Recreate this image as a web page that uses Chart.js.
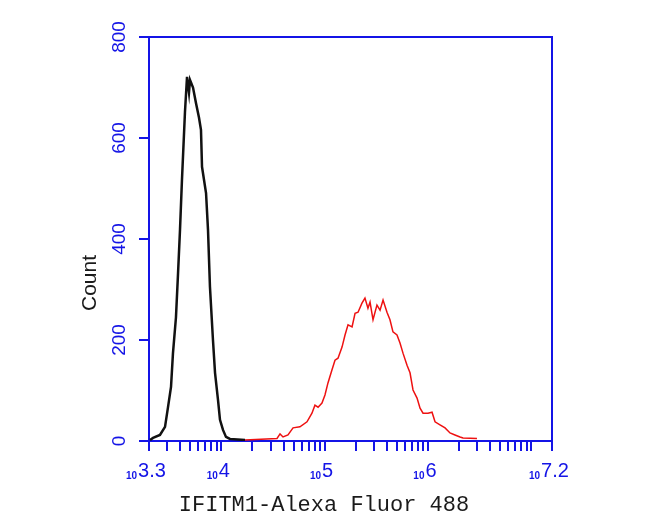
<!DOCTYPE html>
<html>
<head>
<meta charset="utf-8">
<script src="https://cdn.jsdelivr.net/npm/chart.js@4.4.1/dist/chart.umd.min.js"></script>
<style>
  body { margin: 0; background: #fff; }
</style>
</head>
<body>
<canvas id="myChart" width="650" height="521"></canvas>
<script>
// channel positions are in decades (log10 of fluorescence)
const negLog = [3.310, 3.339, 3.406, 3.455, 3.484, 3.513, 3.532, 3.561, 3.581, 3.600, 3.619, 3.648, 3.668, 3.687, 3.697, 3.726, 3.755, 3.784, 3.803, 3.813, 3.852, 3.871, 3.890, 3.919, 3.939, 3.968, 3.987, 4.016, 4.045, 4.084, 4.229]
const negCount = [2, 6, 12, 28, 67, 107, 174, 245, 332, 418, 517, 651, 721, 690, 715, 700, 669, 640, 616, 543, 491, 418, 305, 200, 135, 81, 42, 22, 8, 4, 2]

const posLog = [4.229, 4.539, 4.568, 4.597, 4.645, 4.694, 4.761, 4.829, 4.877, 4.906, 4.936, 4.974, 5.003, 5.032, 5.071, 5.100, 5.129, 5.168, 5.197, 5.226, 5.265, 5.294, 5.323, 5.361, 5.390, 5.419, 5.439, 5.468, 5.506, 5.536, 5.565, 5.603, 5.632, 5.661, 5.700, 5.729, 5.758, 5.797, 5.826, 5.855, 5.894, 5.923, 5.952, 6.000, 6.039, 6.068, 6.116, 6.165, 6.213, 6.261, 6.310, 6.339, 6.474]
const posCount = [2, 5, 14, 8, 12, 26, 28, 38, 55, 71, 67, 75, 91, 115, 141, 160, 164, 186, 210, 230, 226, 253, 255, 273, 283, 263, 275, 240, 269, 259, 279, 255, 240, 216, 210, 194, 174, 150, 135, 101, 85, 65, 55, 55, 57, 38, 32, 26, 16, 12, 8, 6, 5]

const xLabelExp = [3.3, 4, 5, 6, 7.2]
const xLabelText = ['3.3', '4', '5', '6', '7.2']
const yTicks = [0, 200, 400, 600, 800]

const blue = '#1414e6'

function toPoints(logs, counts) {
    return logs.map((e, i) => ({ x: Math.pow(10, e), y: counts[i] }))
}

const labelsPlugin = {
    id: 'labels',
    afterDraw(chart) {
        const ctx = chart.ctx
        const a = chart.chartArea
        const xs = chart.scales.x
        const ys = chart.scales.y
        ctx.save()
        // top and right frame
        ctx.strokeStyle = blue
        ctx.lineWidth = 2
        ctx.beginPath()
        ctx.moveTo(a.left, a.top)
        ctx.lineTo(a.right, a.top)
        ctx.lineTo(a.right, a.bottom)
        ctx.stroke()

        ctx.fillStyle = blue
        // y tick labels, rotated
        ctx.font = '19px "Liberation Sans", Arial, sans-serif'
        ctx.textAlign = 'center'
        ctx.textBaseline = 'alphabetic'
        yTicks.forEach(t => {
            const py = ys.getPixelForValue(t)
            ctx.save()
            ctx.translate(125, py)
            ctx.rotate(-Math.PI / 2)
            ctx.fillText(String(t), 0, 0)
            ctx.restore()
        })

        // x tick labels: small 10 + big exponent
        xLabelExp.forEach((e, i) => {
            const px = xs.getPixelForValue(Math.pow(10, e))
            ctx.font = '20px "Liberation Sans", Arial, sans-serif'
            ctx.textAlign = 'center'
            const w = ctx.measureText(xLabelText[i]).width
            ctx.fillText(xLabelText[i], px + 3, 477)
            ctx.font = 'bold 10px "Liberation Sans", Arial, sans-serif'
            ctx.textAlign = 'right'
            ctx.fillText('10', px + 3 - w / 2 - 1, 479)
        })

        // axis titles
        ctx.fillStyle = '#1a1a1a'
        ctx.font = '21px "Liberation Sans", Arial, sans-serif'
        ctx.textAlign = 'center'
        ctx.save()
        ctx.translate(96, 283)
        ctx.rotate(-Math.PI / 2)
        ctx.fillText('Count', 0, 0)
        ctx.restore()

        ctx.font = '22px "Liberation Mono", monospace'
        ctx.fillText('IFITM1-Alexa Fluor 488', 324, 511)
        ctx.restore()
    }
}

const ctx = document.getElementById('myChart')

new Chart(ctx, {
    type: 'scatter',
    data: {
        datasets: [{
            label: 'control',
            data: toPoints(negLog, negCount),
            showLine: true,
            borderColor: '#111111',
            borderWidth: 2.5,
            pointRadius: 0,
            tension: 0
        }, {
            label: 'IFITM1',
            data: toPoints(posLog, posCount),
            showLine: true,
            borderColor: '#ee1111',
            borderWidth: 1.5,
            pointRadius: 0,
            tension: 0
        }]
    },
    options: {
        responsive: false,
        animation: false,
        layout: {
            padding: { left: 139, right: 98, top: 37, bottom: 70 }
        },
        plugins: {
            legend: { display: false },
            tooltip: { enabled: false }
        },
        scales: {
            x: {
                type: 'logarithmic',
                min: Math.pow(10, 3.3),
                max: Math.pow(10, 7.2),
                afterBuildTicks: scale => {
                    const t = [{ value: Math.pow(10, 3.3) }]
                    for (let n = 3; n <= 7; n++) {
                        for (let k = 1; k <= 9; k++) {
                            const v = k * Math.pow(10, n)
                            if (v > Math.pow(10, 3.3) && v < Math.pow(10, 7.2)) t.push({ value: v })
                        }
                    }
                    t.push({ value: Math.pow(10, 7.2) })
                    scale.ticks = t
                },
                ticks: { display: false },
                grid: {
                    drawOnChartArea: false,
                    drawTicks: true,
                    tickLength: 10,
                    color: blue,
                    lineWidth: 2
                },
                border: { color: blue, width: 2 }
            },
            y: {
                min: 0,
                max: 800,
                afterBuildTicks: scale => {
                    scale.ticks = yTicks.map(v => ({ value: v }))
                },
                ticks: { display: false },
                grid: {
                    drawOnChartArea: false,
                    drawTicks: true,
                    tickLength: 10,
                    color: blue,
                    lineWidth: 2
                },
                border: { color: blue, width: 2 }
            }
        }
    },
    plugins: [labelsPlugin]
})
</script>
</body>
</html>
